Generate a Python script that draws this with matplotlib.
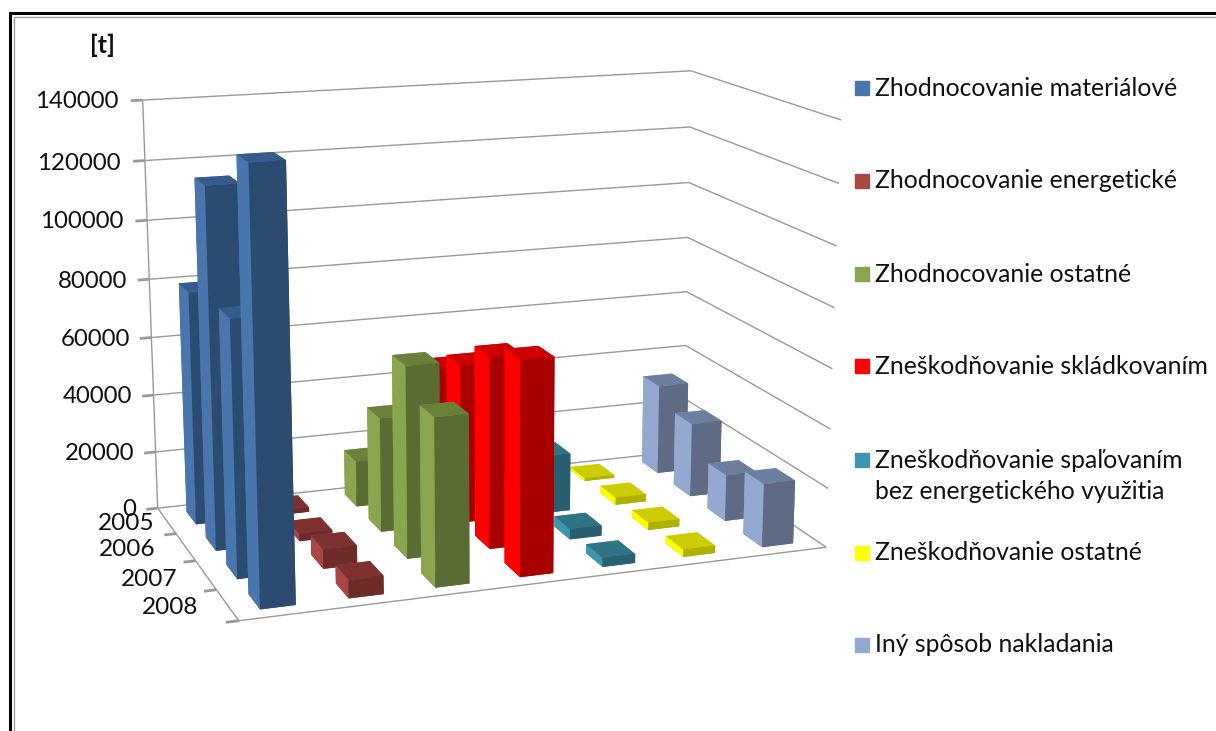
import numpy as np
import matplotlib
matplotlib.use('Agg')
import matplotlib.pyplot as plt
from matplotlib.patches import Rectangle
from mpl_toolkits.mplot3d.art3d import Line3DCollection

plt.rcParams['font.family'] = ['Lato', 'DejaVu Sans']

W, H = 1216, 731

years = ['2005', '2006', '2007', '2008']
series = ['Zhodnocovanie materiálové', 'Zhodnocovanie energetické', 'Zhodnocovanie ostatné',
          'Zneškodňovanie skládkovaním', 'Zneškodňovanie spaľovaním\nbez energetického využitia',
          'Zneškodňovanie ostatné', 'Iný spôsob nakladania']

material = [79500, 120000, 84000, 137000]
energy = [1500, 2500, 6500, 6000]
other_rec = [16000, 39000, 64000, 55000]
landfill = [46000, 54500, 64500, 70500]
incineration = [1500, 20000, 3500, 3000]
other_disp = [1000, 2500, 2500, 2500]
other_way = [32000, 26000, 16000, 21500]
values = [material, energy, other_rec, landfill, incineration, other_disp, other_way]

z_ticks = [0, 20000, 40000, 60000, 80000, 100000, 120000, 140000]

# left face, front face, top face
colors = [('#4A76AE', '#2C4B70', '#355C8C'),
          ('#AA4643', '#6D2B2A', '#7F3130'),
          ('#89A54E', '#5A6B33', '#6B8039'),
          ('#FF0000', '#A80000', '#CC0000'),
          ('#3D96AE', '#28606F', '#2F7485'),
          ('#FFFF00', '#B0B000', '#CCCC00'),
          ('#93A9CF', '#5F6B84', '#6D7F9F')]

# box corners of the chart in data units -> where they sit in the picture
n_s, n_y, z_max = len(series), len(years), z_ticks[-1]
corners = [((0, 0, 0), (158, 508)), ((0, 0, 1), (143, 100)),
           ((n_s, 0, 0), (684, 452)), ((n_s, 0, 1), (690, 70)),
           ((n_s, n_y, 0), (826, 546)), ((n_s, n_y, 1), (842, 121)),
           ((0, n_y, 0), (238, 621))]


def fit_camera(pairs):
    rows = []
    for (x, y, z), (u, v) in pairs:
        v = H - v
        rows.append([x, y, z, 1, 0, 0, 0, 0, -u*x, -u*y, -u*z, -u])
        rows.append([0, 0, 0, 0, x, y, z, 1, -v*x, -v*y, -v*z, -v])
    p = np.linalg.svd(np.array(rows, float))[2][-1].reshape(3, 4)
    if p[2] @ [3, 2, 0, 1] < 0:
        p = -p
    p[:, 2] /= z_max
    return np.vstack([p[0], p[1], [0, 0, 0, -1], p[2]])


fig = plt.figure(figsize=(W/100, H/100), dpi=100)
ax = fig.add_axes([0, 0, 1, 1], projection='3d')
M = fit_camera(corners)
ax.get_proj = lambda: M
ax.apply_aspect = lambda position=None: None
ax.viewLim.intervalx = (0, W)
ax.viewLim.intervaly = (0, H)
ax.set_axis_off()
ax.patch.set_visible(False)
ax.computed_zorder = False

thin, thick = [], []
for z in z_ticks:
    thin.append([(0, 0, z), (n_s, 0, z), (n_s, n_y, z)])
    thick.append([(-0.14, 0, z), (0, 0, z)])
thin.append([(0, 0, 0), (0, 0, z_max)])
thin.append([(0, 0, 0), (0, n_y, 0), (n_s, n_y, 0)])
for i in range(1, n_y + 1):
    thick.append([(-0.14, i, 0), (0, i, 0)])
grid = '#999999'
ax.add_collection3d(Line3DCollection(thin, colors=grid, linewidths=1, zorder=1), autolim=False)
ax.add_collection3d(Line3DCollection(thick, colors=grid, linewidths=2, zorder=1), autolim=False)

# camera sits front-left, so right-hand series and back rows go first
order = 10
dx, dy = 0.40, 0.5
for s in range(n_s - 1, -1, -1):
    left, front, top = colors[s]
    for y in range(n_y):
        # bar3d face order is -z, +z, -y, +y, -x, +x
        faces = [front, top, left, front, left, front]
        ax.bar3d(s + 0.30, y + 0.25, 0, dx, dy, values[s][y], color=faces, shade=False, zorder=order)
        order += 1


def px(x, y):
    return x / W, 1 - y / H


tick_right = [136, 134, 132, 130, 127, 123, 121, 118]
tick_y = [510, 453, 396, 339, 282, 222, 163, 102]
for z, x, y in zip(z_ticks, tick_right, tick_y):
    fig.text(*px(x, y), str(z), ha='right', va='center', fontsize=17.3, color='#111111')
for label, x, y in zip(years, [155, 155, 177, 198], [524, 549, 579, 608]):
    fig.text(*px(x, y), label, ha='right', va='center', fontsize=17.6, color='#111111')
fig.text(*px(102, 45), '[t]', ha='center', va='center', fontsize=18, fontweight='bold', color='#111111')

legend_y = [88, 181, 274, 366, 476, 553, 645]
for s, y in enumerate(legend_y):
    yy = 460 if s == 4 else y
    fig.patches.append(Rectangle(px(855, yy + 7), 14 / W, 14 / H, transform=fig.transFigure, color=colors[s][0], figure=fig))
    fig.text(*px(875, y), series[s], ha='left', va='center', fontsize=17.8, color='#111111', linespacing=1.45)

# frame of the pasted picture, only its left and top edges are in view
fig.patches.append(Rectangle(px(10, H + 20), 1.1, (H + 20 - 13) / H, transform=fig.transFigure, fill=False, ec='black', lw=2.2, figure=fig))
fig.patches.append(Rectangle(px(14, H + 20), 1.1, (H + 20 - 17) / H, transform=fig.transFigure, fill=False, ec='#999999', lw=1, figure=fig))

fig.savefig('out.png', dpi=100)
